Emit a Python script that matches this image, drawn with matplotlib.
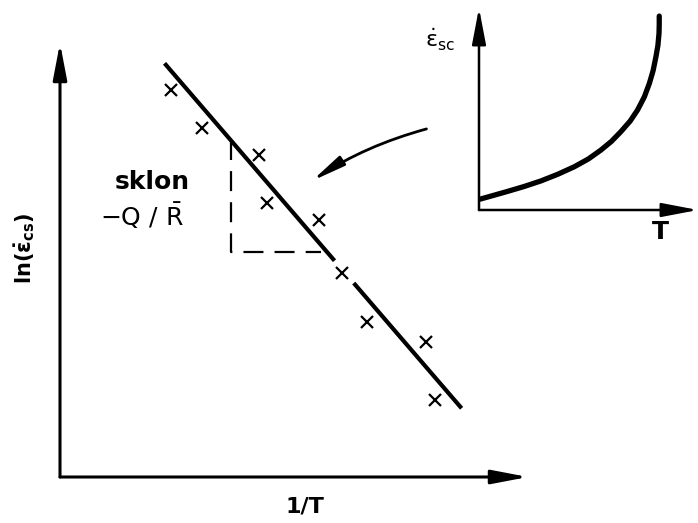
import numpy as np
import matplotlib.pyplot as plt

plt.rcParams['font.family'] = ['DejaVu Sans']
plt.rcParams['mathtext.fontset'] = 'dejavusans'
plt.rcParams['mathtext.default'] = 'regular'

# measured points, ln(rate) vs 1/T (arbitrary units)
inv_T = [2.38, 3.04, 4.26, 4.43, 5.53, 6.02, 6.55, 7.81, 8.02]
ln_rate = [8.92, 8.04, 7.42, 6.31, 5.92, 4.70, 3.57, 3.11, 1.77]

# fitted straight line  ln(rate) = a + b / T
fit_a, fit_b = 12.33, -1.2524
fit_x1 = [2.234, 5.866]
fit_x2 = [6.277, 8.581]

# slope triangle
tri_x = [3.653, 5.57]
tri_y_low = 5.191

# inset: creep rate vs temperature
T_vals = [0.06, 0.65, 1.27, 2.05, 2.83, 3.6, 4.35, 5.0, 5.57, 6.05, 6.48,
          6.9, 7.24, 7.55, 7.78, 7.95, 8.08, 8.17, 8.22, 8.23, 8.23]
rate_vals = [0.54, 0.72, 0.91, 1.16, 1.44, 1.77, 2.14, 2.53, 2.97, 3.40, 3.88,
             4.40, 4.95, 5.60, 6.27, 6.90, 7.59, 8.15, 8.75, 9.20, 9.60]

W, H = 698, 523
fig = plt.figure(figsize=(W / 100, H / 100), dpi=100)


def px_axes(x0, y0, x1, y1):
    # axes from pixel box (left, bottom-line y, right tip, top tip)
    return fig.add_axes([x0 / W, (H - y0) / H, (x1 - x0) / W, (y0 - y1) / H])


def axis_arrows(ax, lw, hl, hw):
    style = f'-|>,head_length={hl},head_width={hw}'
    props = dict(arrowstyle=style, color='black', lw=lw, mutation_scale=10,
                 shrinkA=0, shrinkB=0)
    ax.annotate('', xy=(1, 0), xytext=(0, 0), xycoords='axes fraction',
                arrowprops=props, annotation_clip=False)
    ax.annotate('', xy=(0, 1), xytext=(0, 0), xycoords='axes fraction',
                arrowprops=props, annotation_clip=False)


def bare(ax):
    for s in ax.spines.values():
        s.set_visible(False)
    ax.set_xticks([])
    ax.set_yticks([])
    ax.set_xlim(0, 10)
    ax.set_ylim(0, 10)
    ax.patch.set_alpha(0)


# main plot
ax = px_axes(60, 477, 528, 43)
bare(ax)
axis_arrows(ax, 2.2, 2.2, 0.42)

for xs in (fit_x1, fit_x2):
    xs = np.array(xs)
    ax.plot(xs, fit_a + fit_b * xs, color='black', lw=3.0, solid_capstyle='butt')

ax.plot(inv_T, ln_rate, ls='none', marker='x', ms=8, mew=1.6, color='black')

tri_top = fit_a + fit_b * tri_x[0]
ax.plot([tri_x[0], tri_x[0], tri_x[1]], [tri_top, tri_y_low, tri_y_low],
        color='black', lw=1.6, ls=(0, (9, 5)))

ax.annotate('', xy=(5.38, 6.82), xytext=(7.83, 8.02),
            arrowprops=dict(arrowstyle='-|>,head_length=2.0,head_width=0.32',
                            mutation_scale=10, color='black', lw=2.0,
                            connectionstyle='arc3,rad=0.08',
                            shrinkA=0, shrinkB=0))

fig.text(152 / W, 1 - 182 / H, 'sklon', fontsize=18, fontweight='bold',
         ha='center', va='center')
fig.text(142 / W, 1 - 216 / H, r'$-Q\ /\ \bar{R}$', fontsize=18,
         ha='center', va='center')
fig.text(305 / W, 1 - 507 / H, '1/T', fontsize=16, fontweight='bold',
         ha='center', va='center')
fig.text(25 / W, 1 - 248 / H, r'ln($\dot{\varepsilon}_{cs}$)', fontsize=15,
         fontweight='bold', rotation=90, ha='center', va='center')

# inset
ins = px_axes(479, 210, 698, 8)
bare(ins)
axis_arrows(ins, 1.8, 2.2, 0.42)
ins.plot(T_vals, rate_vals, color='black', lw=3.8, solid_capstyle='round',
         solid_joinstyle='round')
fig.text(440 / W, 1 - 40 / H, r'$\dot{\varepsilon}_{sc}$', fontsize=16,
         ha='center', va='center')
fig.text(660 / W, 1 - 232 / H, 'T', fontsize=18, fontweight='bold',
         ha='center', va='center')

fig.savefig('out.png', dpi=100)
